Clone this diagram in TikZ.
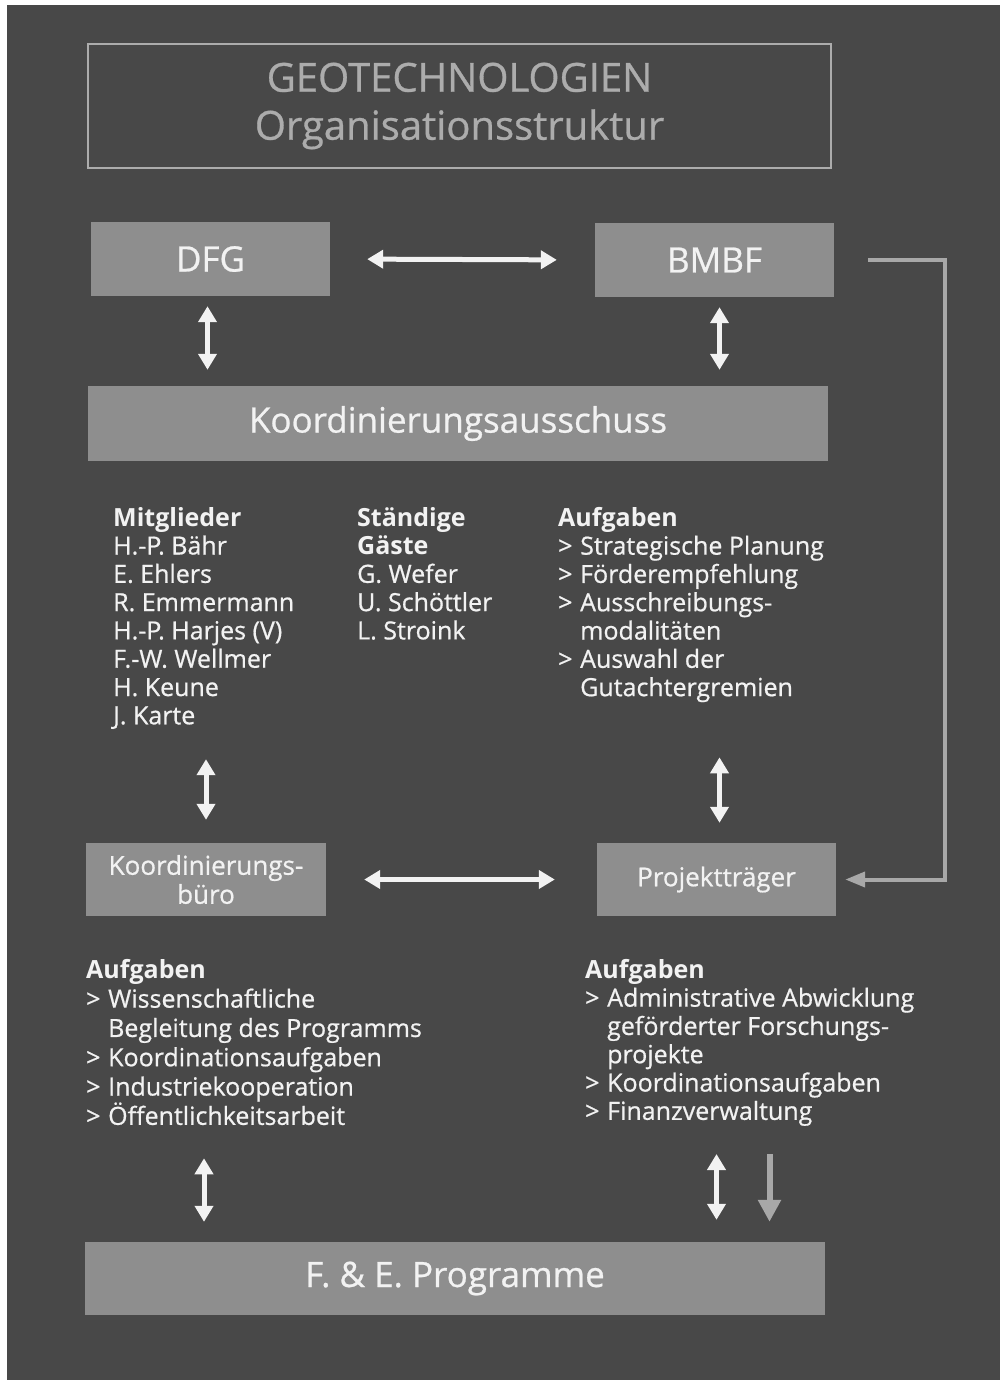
\documentclass[tikz,border=0pt]{standalone}
\usepackage{fontspec}
\setmainfont{Open Sans}[FakeBold=0.7, BoldFeatures={FakeBold=0}]
\usetikzlibrary{arrows.meta}

\definecolor{grundfarbe}{RGB}{72,72,72}
\definecolor{kastenfarbe}{RGB}{142,142,142}
\definecolor{schriftfarbe}{RGB}{242,242,242}
\definecolor{titelfarbe}{RGB}{172,172,172}
\definecolor{linienfarbe}{RGB}{168,168,168}

\newcommand{\pkt}{\makebox[22pt][l]{>}}
\newcommand{\ein}{\hspace*{22pt}}

\tikzset{
	kasten/.style={fill=kastenfarbe, text=schriftfarbe, inner sep=0pt, align=center},
	liste/.style={text=schriftfarbe, align=left, anchor=north west, inner sep=0pt},
	pfeil/.style={draw=schriftfarbe, line width=5pt, {Triangle[width=18pt,length=16pt]}-{Triangle[width=18pt,length=16pt]}},
	graupfeil/.style={draw=linienfarbe, line width=4pt, -{Triangle[width=15pt,length=20pt]}}
}

\begin{document}
\begin{tikzpicture}[x=1pt,y=-1pt]
	\useasboundingbox (0,0) rectangle (1007,1380);
	\fill[white] (0,0) rectangle (1007,1380);
	\fill[grundfarbe] (7,5) rectangle (1000,1380);

	\node[draw=titelfarbe, line width=2pt, text=titelfarbe, align=center, minimum width=743pt, minimum height=124pt, font=\fontsize{40}{48}\selectfont] (titel) at (459.5,106) {GEOTECHNOLOGIEN\\Organisationsstruktur};

	\node[kasten, minimum width=239pt, minimum height=74pt, font=\fontsize{35}{40}\selectfont] (dfg) at (210.5,259) {DFG};
	\node[kasten, minimum width=239pt, minimum height=74pt, font=\fontsize{35}{40}\selectfont] (bmbf) at (714.5,260) {BMBF};
	\node[kasten, minimum width=740pt, minimum height=75pt, font=\fontsize{35}{40}\selectfont] (ausschuss) at (458,423.5) {Koordinierungsausschuss};

	\node[liste, font=\fontsize{25}{28.3}\selectfont] (mitglieder) at (113,507) {\textbf{Mitglieder}\\H.-P. Bähr\\E. Ehlers\\R. Emmermann\\H.-P. Harjes (V)\\F.-W. Wellmer\\H. Keune\\J. Karte};
	\node[liste, font=\fontsize{25}{28.3}\selectfont] (gaeste) at (357,507) {\textbf{Ständige}\\\textbf{Gäste}\\G. Wefer\\U. Schöttler\\L. Stroink};
	\node[liste, font=\fontsize{25}{28.3}\selectfont] (aufgabenka) at (558,507) {\textbf{Aufgaben}\\\pkt Strategische Planung\\\pkt Förderempfehlung\\\pkt Ausschreibungs-\\\ein modalitäten\\\pkt Auswahl der\\\ein Gutachtergremien};

	\node[kasten, minimum width=240pt, minimum height=73pt, font=\fontsize{26}{29}\selectfont] (buero) at (206,879.5) {Koordinierungs-\\büro};
	\node[kasten, minimum width=239pt, minimum height=73pt, font=\fontsize{26}{29}\selectfont] (projekt) at (716.5,879.5) {Projektträger};

	\node[liste, font=\fontsize{25}{29.3}\selectfont] (aufgabenbuero) at (86,959) {\textbf{Aufgaben}\\\pkt Wissenschaftliche\\\ein Begleitung des Programms\\\pkt Koordinationsaufgaben\\\pkt Industriekooperation\\\pkt Öffentlichkeitsarbeit};
	\node[liste, font=\fontsize{25}{28.3}\selectfont] (aufgabenpt) at (585,959) {\textbf{Aufgaben}\\\pkt Administrative Abwicklung\\\ein geförderter Forschungs-\\\ein projekte\\\pkt Koordinationsaufgaben\\\pkt Finanzverwaltung};

	\node[kasten, minimum width=740pt, minimum height=73pt, font=\fontsize{35}{40}\selectfont] (programme) at (455,1278.5) {F. \& E. Programme};

	\coordinate (ecke) at (945,260);

	\draw[pfeil, shorten <=37pt, shorten >=38pt] (dfg.east) -- (bmbf.west);
	\draw[pfeil, shorten <=10pt, shorten >=16pt] ([xshift=-3pt]dfg.south) -- ([xshift=-3pt]dfg.south |- ausschuss.north);
	\draw[pfeil, shorten <=10pt, shorten >=16pt] ([xshift=5pt]bmbf.south) -- ([xshift=5pt]bmbf.south |- ausschuss.north);
	\draw[pfeil, shorten <=30pt, shorten >=23pt] (buero.north |- mitglieder.south) -- (buero.north);
	\draw[pfeil, shorten <=55pt, shorten >=20pt] ([xshift=3pt]projekt.north |- aufgabenka.south) -- ([xshift=3pt]projekt.north);
	\draw[pfeil, shorten <=38pt, shorten >=42pt] (buero.east) -- (projekt.west);
	\draw[pfeil, shorten <=33pt, shorten >=20pt] ([xshift=-2pt]buero.south |- aufgabenbuero.south) -- ([xshift=-2pt]buero.south |- programme.north);
	\draw[pfeil, shorten <=28pt, shorten >=22pt] (projekt.south |- aufgabenpt.south) -- (projekt.south |- programme.north);
	\draw[graupfeil, line width=6pt, {-Triangle[width=22pt,length=22pt]}, shorten <=28pt, shorten >=20pt] ([xshift=53pt]projekt.south |- aufgabenpt.south) -- ([xshift=53pt]projekt.south |- programme.north);
	\draw[graupfeil, shorten <=34pt, shorten >=9pt] (bmbf.east) -- (ecke) -- (ecke |- projekt.east) -- (projekt.east);
\end{tikzpicture}
\end{document}
